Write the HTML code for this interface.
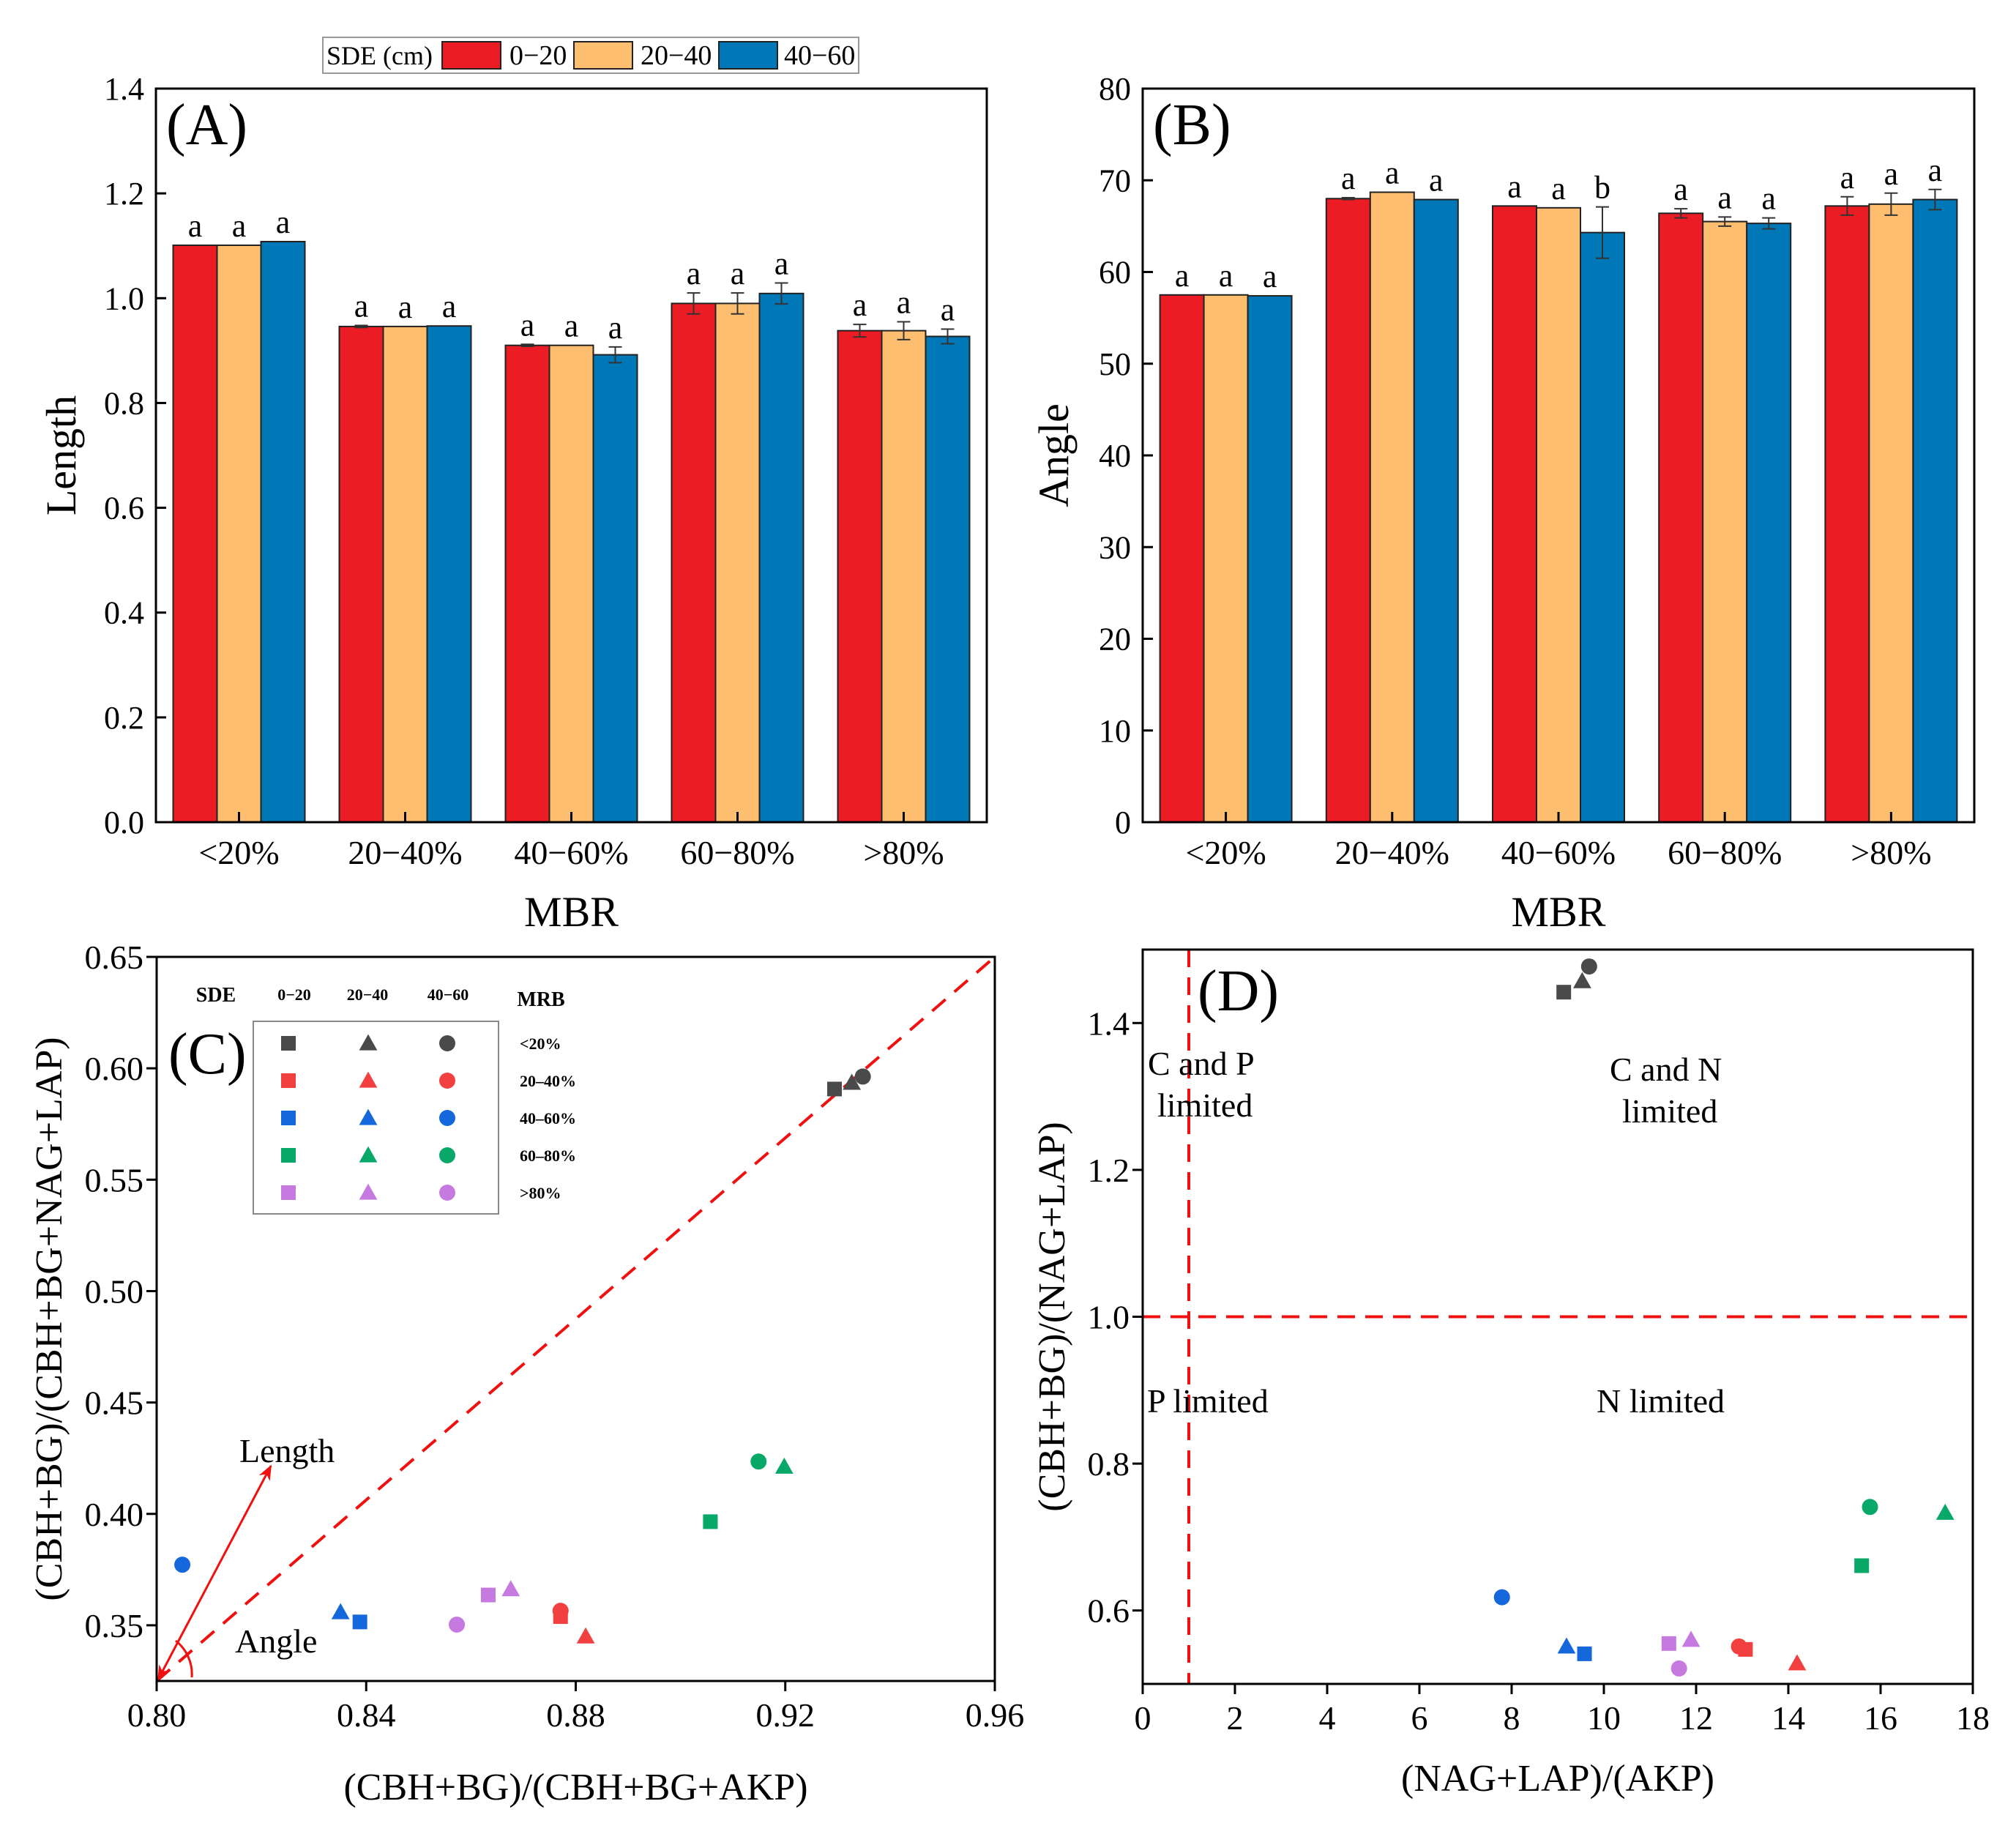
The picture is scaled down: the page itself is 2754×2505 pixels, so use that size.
<!DOCTYPE html>
<html><head><meta charset="utf-8"><style>
html,body{margin:0;padding:0;background:#fff}
svg{display:block;font-family:"Liberation Serif",serif}
text{font-family:"Liberation Serif",serif}
</style></head><body>
<svg id="fig" width="2754" height="2505" viewBox="0 0 2754 2505" xmlns="http://www.w3.org/2000/svg">
<rect width="2754" height="2505" fill="#fff"/>
<g id="gA"></g>
<g id="gB"></g>
<g id="gC"></g>
<g id="gD"></g>
</svg>
<script>
const categories = ["<20%","20\u221240%","40\u221260%","60\u221280%",">80%"];
const seriesNames = ["0\u221220","20\u221240","40\u221260"];
const lengthVals = [[1.101,0.946,0.910,0.990,0.938],[1.101,0.946,0.910,0.990,0.938],[1.108,0.947,0.892,1.009,0.927]];
const lengthErr = [[0,0.002,0.002,0.02,0.012],[0,0,0,0.02,0.017],[0,0,0.015,0.02,0.014]];
const lengthLetters = [["a","a","a","a","a"],["a","a","a","a","a"],["a","a","a","a","a"]];
const lengthTicks = [0,0.2,0.4,0.6,0.8,1.0,1.2,1.4];
const angleVals = [[57.5,68.0,67.2,66.4,67.2],[57.5,68.7,67.0,65.5,67.4],[57.4,67.9,64.3,65.3,67.9]];
const angleErr = [[0,0.1,0,0.5,1.0],[0,0,0,0.5,1.2],[0,0,2.8,0.6,1.1]];
const angleLetters = [["a","a","a","a","a"],["a","a","a","a","a"],["a","a","b","a","a"]];
const angleTicks = [0,10,20,30,40,50,60,70,80];
const groups = ["<20%","20\u201340%","40\u201360%","60\u201380%",">80%"];
const cX = [[0.9294,0.9327,0.9348],[0.8771,0.8819,0.8771],[0.8388,0.8351,0.8049],[0.9057,0.9198,0.9149],[0.8633,0.8676,0.8573]];
const cY = [[0.5907,0.5935,0.5963],[0.3539,0.3450,0.3565],[0.3515,0.3559,0.3772],[0.3965,0.4212,0.4235],[0.3636,0.3662,0.3503]];
const cXTicks = [0.80,0.84,0.88,0.92,0.96];
const cYTicks = [0.35,0.40,0.45,0.50,0.55,0.60,0.65];
const dX = [[9.13,9.53,9.68],[13.07,14.19,12.93],[9.58,9.19,7.79],[15.59,17.40,15.77],[11.41,11.89,11.63]];
const dY = [[1.442,1.457,1.477],[0.547,0.528,0.551],[0.541,0.551,0.618],[0.661,0.733,0.741],[0.555,0.560,0.521]];
const dXTicks = [0,2,4,6,8,10,12,14,16,18];
const dYTicks = [0.6,0.8,1.0,1.2,1.4];

const NS="http://www.w3.org/2000/svg";
const barColors=["#ec1c24","#fdbf6f","#0077b6"];
const grpColors=["#4a4a4a","#f24040","#1468dc","#08a868","#c67ae0"];
function el(tag,attrs,parent,text){const e=document.createElementNS(NS,tag);for(const k in attrs)e.setAttribute(k,attrs[k]);if(text!==undefined)e.textContent=text;parent.appendChild(e);return e;}
function lin(d0,d1,r0,r1){return v=>r0+(v-d0)/(d1-d0)*(r1-r0);}

function barPanel(g,vals,errs,letters,ticks,ymax,L,R,T,B,fmt,title,label,ytX){
  const y=lin(0,ymax,B,T);
  const step=(R-L)/5, bw=60;
  const cx=i=>L+step*(i+0.5);
  for(let s=0;s<3;s++)for(let i=0;i<5;i++){
    const x0=cx(i)-1.5*bw+s*bw, v=vals[s][i];
    const r=el("rect",{x:x0,y:y(v),width:bw,height:B-y(v),fill:barColors[s],stroke:"#222","stroke-width":2},g);
    
    
    const e=errs[s][i], xc=x0+bw/2;
    if(e>0){
      const eb=el("path",{d:`M${xc},${y(v+e)}V${y(v-e)}M${xc-9},${y(v+e)}H${xc+9}M${xc-9},${y(v-e)}H${xc+9}`,stroke:"#333","stroke-width":2,fill:"none"},g);
      
      
    }
    const t=el("text",{x:xc,y:y(v+e)-12,"font-size":44,"text-anchor":"middle"},g,letters[s][i]);
    
    
  }
  el("rect",{x:L,y:T,width:R-L,height:B-T,fill:"none",stroke:"#000","stroke-width":3},g);
  ticks.forEach(tv=>{
    el("line",{x1:L,x2:L+14,y1:y(tv),y2:y(tv),stroke:"#000","stroke-width":3},g);
    const t=el("text",{x:L-16,y:y(tv)+15,"font-size":44,"text-anchor":"end"},g,fmt(tv));
    
    
  });
  categories.forEach((c,i)=>{
    el("line",{x1:cx(i),x2:cx(i),y1:B,y2:B-14,stroke:"#000","stroke-width":3},g);
    const t=el("text",{x:cx(i),y:B+57,"font-size":46,"text-anchor":"middle"},g,c);
    
    
  });
  const xt=el("text",{x:(L+R)/2,y:1265,"font-size":58,"text-anchor":"middle"},g,"MBR");
  
  
  const ty=(T+B)/2;
  const yt=el("text",{x:ytX,y:ty,"font-size":58,"text-anchor":"middle",transform:`rotate(-90 ${ytX} ${ty})`},g,title);
  
  
  const pl=el("text",{x:L+14,y:T+76,"font-size":80},g,label);
  
  
}
const gA=document.getElementById("gA"), gB=document.getElementById("gB");
barPanel(gA,lengthVals,lengthErr,lengthLetters,lengthTicks,1.4,213,1348,121,1123,v=>v.toFixed(1),"Length","(A)",103);
barPanel(gB,angleVals,angleErr,angleLetters,angleTicks,80,1561,2697,121,1123,v=>String(v),"Angle","(B)",1459);

(function(){
  const lg=el("g",{},gA);
  
  
  el("rect",{x:441,y:51,width:732,height:49,fill:"#fff",stroke:"#999","stroke-width":2},lg);
  el("text",{x:446,y:88,"font-size":36},lg,"SDE (cm)");
  const sx=[604,784,982], tx=[696,875,1071];
  for(let s=0;s<3;s++){
    const r=el("rect",{x:sx[s],y:57,width:80,height:37,fill:barColors[s],stroke:"#222","stroke-width":2},lg);
    
    
    const t=el("text",{x:tx[s],y:88,"font-size":38},lg,seriesNames[s]);
    
    
  }
})();

function marker(g,shape,x,y,col,sz){
  let m;
  if(shape===0) m=el("rect",{x:x-sz/2,y:y-sz/2,width:sz,height:sz,fill:col},g);
  else if(shape===1) m=el("polygon",{points:`${x},${y-sz*0.62} ${x-sz*0.62},${y+sz*0.48} ${x+sz*0.62},${y+sz*0.48}`,fill:col},g);
  else m=el("circle",{cx:x,cy:y,r:sz*0.55,fill:col},g);
  
  
  return m;
}
function frame(g,L,R,T,B,xs,ys,xT,yT,xf,yf,xt,yt,xtY,ytX){
  el("rect",{x:L,y:T,width:R-L,height:B-T,fill:"none",stroke:"#000","stroke-width":3},g);
  xT.forEach(v=>{el("line",{x1:xs(v),x2:xs(v),y1:B,y2:B+14,stroke:"#000","stroke-width":3},g);
    const t=el("text",{x:xs(v),y:B+62,"font-size":46,"text-anchor":"middle"},g,xf(v));
    
    });
  yT.forEach(v=>{el("line",{x1:L,x2:L-14,y1:ys(v),y2:ys(v),stroke:"#000","stroke-width":3},g);
    const t=el("text",{x:L-18,y:ys(v)+16,"font-size":46,"text-anchor":"end"},g,yf(v));
    
    });
  const a=el("text",{x:(L+R)/2,y:xtY,"font-size":52,"text-anchor":"middle"},g,xt);
  
  
  const cy=(T+B)/2;
  const b=el("text",{x:ytX,y:cy,"font-size":52,"text-anchor":"middle",transform:`rotate(-90 ${ytX} ${cy})`},g,yt);
  
  
}
(function(){
  const g=document.getElementById("gC");
  const L=214,R=1359,T=1307,B=2296;
  const xs=lin(0.80,0.96,L,R), ys=lin(0.325,0.65,B,T);
  el("line",{x1:xs(0.80),y1:ys(0.325),x2:xs(0.96),y2:ys(0.65),stroke:"#f01010","stroke-width":4,"stroke-dasharray":"24,16"},g);
  el("defs",{},g).innerHTML='<marker id="ah" viewBox="0 0 10 10" refX="9" refY="5" markerWidth="7" markerHeight="7" orient="auto-start-reverse"><path d="M0,1 L10,5 L0,9 L3,5z" fill="#f01010"/></marker>';
  const ar=el("line",{x1:xs(0.80)+2,y1:ys(0.325)-2,x2:xs(0.8218),y2:ys(0.4215),stroke:"#f01010","stroke-width":3,"marker-end":"url(#ah)","marker-start":"url(#ah)"},g);
  
  
  el("path",{d:`M${L+26},${B-55} A58,58 0 0 1 ${L+48},${B-5}`,stroke:"#f01010","stroke-width":3,fill:"none"},g);
  el("text",{x:327,y:1997,"font-size":46},g,"Length");
  el("text",{x:321,y:2257,"font-size":46},g,"Angle");
  for(let i=0;i<5;i++)for(let s=0;s<3;s++) marker(g,s,xs(cX[i][s]),ys(cY[i][s]),grpColors[i],20);
  frame(g,L,R,T,B,xs,ys,cXTicks,cYTicks,v=>v.toFixed(2),v=>v.toFixed(2),"(CBH+BG)/(CBH+BG+AKP)","(CBH+BG)/(CBH+BG+NAG+LAP)",2458,84);
  const pl=el("text",{x:230,y:1466,"font-size":80},g,"(C)");
  
  
  const lg=el("g",{},g);
  
  
  el("rect",{x:346,y:1395,width:335,height:263,fill:"#fff",stroke:"#888","stroke-width":2},lg);
  el("text",{x:295,y:1368,"font-size":28,"font-weight":"bold","text-anchor":"middle"},lg,"SDE");
  const cols=[402,502,612];
  seriesNames.forEach((n,s)=>el("text",{x:cols[s],y:1366,"font-size":22,"font-weight":"bold","text-anchor":"middle"},lg,n));
  el("text",{x:739,y:1374,"font-size":28,"font-weight":"bold","text-anchor":"middle"},lg,"MRB");
  const mx=[394,503,611];
  for(let i=0;i<5;i++){
    const yy=1425+i*51;
    for(let s=0;s<3;s++) marker(lg,s,mx[s],yy,grpColors[i],20);
    const t=el("text",{x:710,y:yy+8,"font-size":22,"font-weight":"bold"},lg,groups[i]);
    
    
  }
})();
(function(){
  const g=document.getElementById("gD");
  const L=1561,R=2695,T=1297,B=2300;
  const xs=lin(0,18,L,R), ys=lin(0.5,1.5,B,T);
  el("line",{x1:xs(1),x2:xs(1),y1:T,y2:B,stroke:"#f01010","stroke-width":4,"stroke-dasharray":"24,14"},g);
  el("line",{x1:L,x2:R,y1:ys(1),y2:ys(1),stroke:"#f01010","stroke-width":4,"stroke-dasharray":"24,14"},g);
  for(let i=0;i<5;i++)for(let s=0;s<3;s++) marker(g,s,xs(dX[i][s]),ys(dY[i][s]),grpColors[i],20);
  frame(g,L,R,T,B,xs,ys,dXTicks,dYTicks,v=>String(v),v=>v.toFixed(1),"(NAG+LAP)/(AKP)","(CBH+BG)/(NAG+LAP)",2446,1454);
  const lbl=[["(D)",1636,1380,80],["C and P",1568,1468,46],["limited",1581,1525,46],["C and N",2199,1476,46],["limited",2216,1533,46],["P limited",1567,1929,46],["N limited",2181,1929,46]];
  lbl.forEach(l=>{const t=el("text",{x:l[1],y:l[2],"font-size":l[3]},g,l[0]);
    
    });
})();
</script>
</body></html>
